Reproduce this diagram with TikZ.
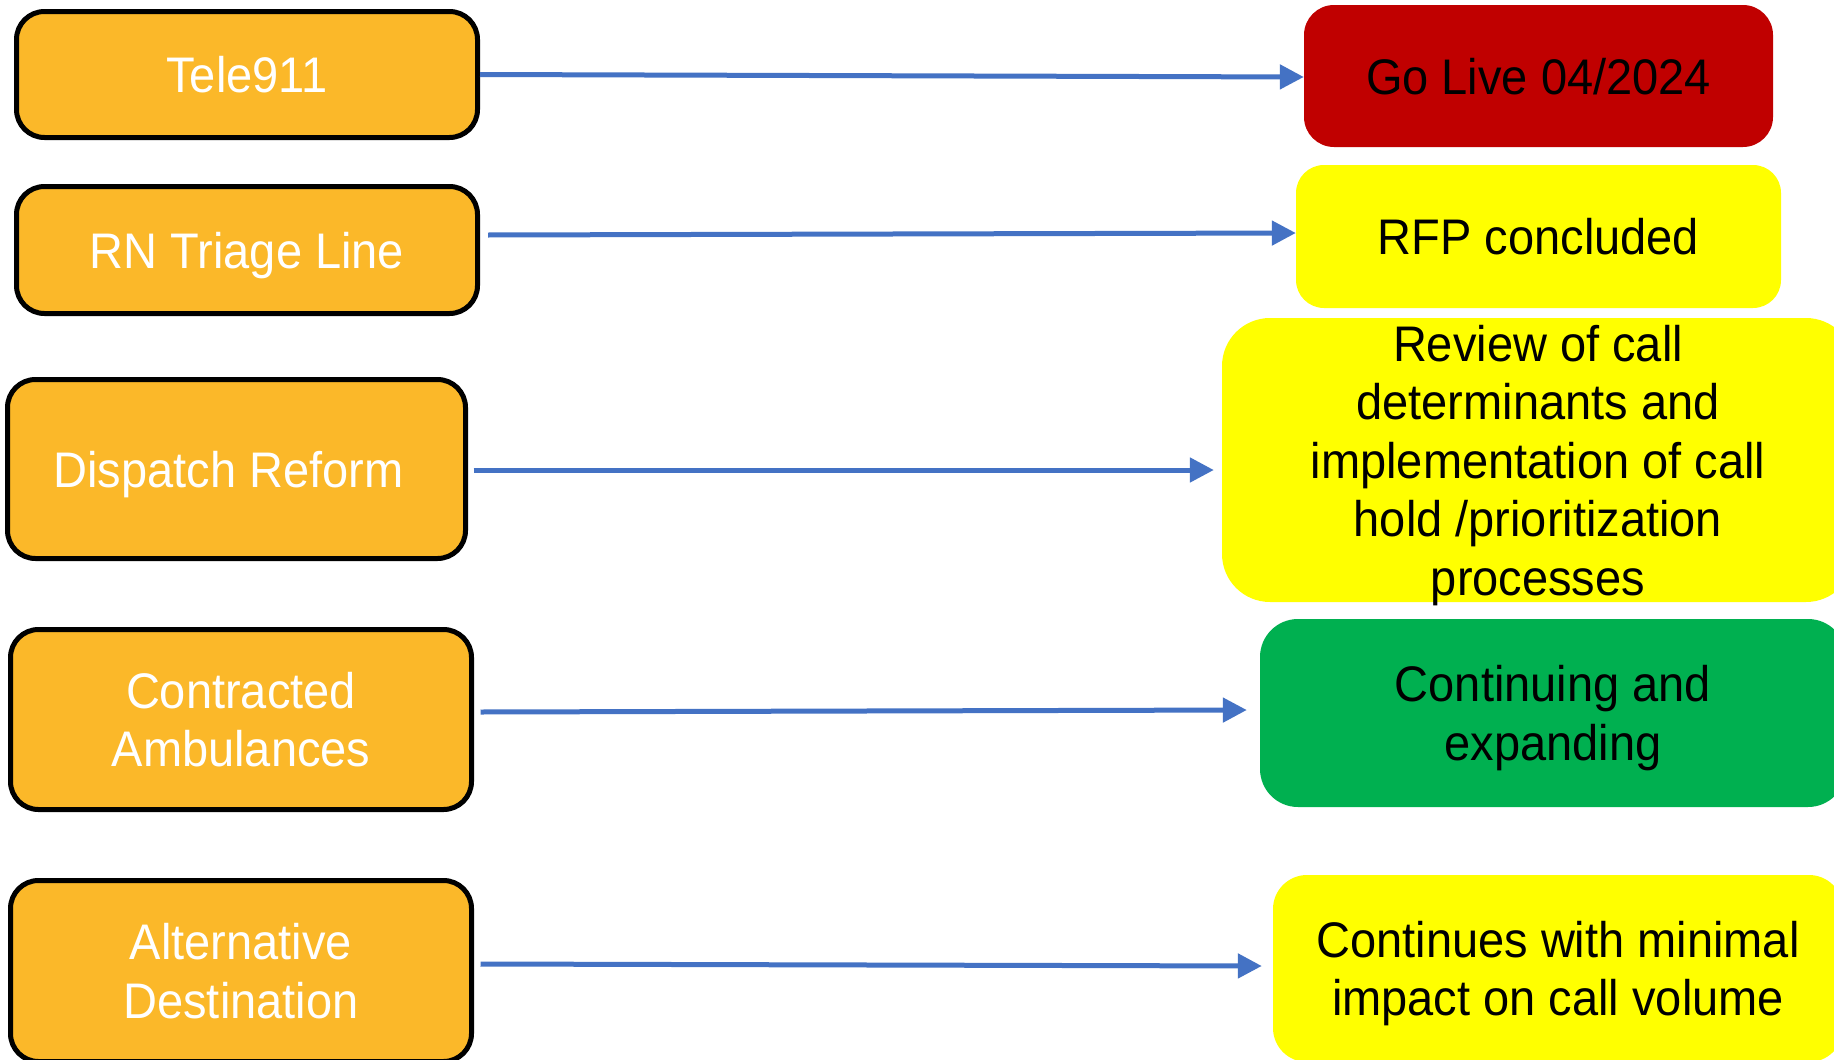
\documentclass[tikz,border=0pt]{standalone}
\usepackage{fontspec}
\setmainfont{Liberation Sans}[FakeStretch=0.94]
\usetikzlibrary{arrows.meta}
\definecolor{boxorange}{HTML}{FBB829}
\definecolor{goRed}{HTML}{C00000}
\definecolor{hiYellow}{HTML}{FFFF00}
\definecolor{okGreen}{HTML}{00B050}
\definecolor{arrowBlue}{HTML}{4472C4}
\begin{document}
\begin{tikzpicture}[x=1pt,y=-1pt,
  srcbox/.style={draw=black, line width=5pt, fill=boxorange, rounded corners=28pt,
    text=white, align=center, font=\fontsize{50}{58.5}\selectfont, inner sep=0pt, text depth=0pt},
  resbox/.style={draw=none, rounded corners=30pt, text=black, align=center,
    font=\fontsize{50}{58.5}\selectfont, inner sep=0pt, text depth=0pt},
  arr/.style={draw=arrowBlue, line width=5pt, -{Triangle[length=24pt,width=24pt]}}]
\useasboundingbox (0,0) rectangle (1834,1060);
\clip (0,0) rectangle (1834,1060);
\fill[white] (0,0) rectangle (1834,1060);

% left boxes
\node[srcbox, minimum width=461pt, minimum height=126pt] (tele) at (247,74.5) {Tele911};
\node[srcbox, minimum width=461pt, minimum height=127pt] (rn) at (247,250) {RN Triage Line};
\node[srcbox, minimum width=458pt, minimum height=179pt] (disp) at (236.5,469) {Dispatch Reform\hspace*{16pt}};
\node[srcbox, minimum width=461pt, minimum height=180pt] (amb) at (241,719.5) {Contracted\\Ambulances};
\node[srcbox, minimum width=461pt, minimum height=181pt] (alt) at (241,971) {Alternative\\Destination};

% right boxes
\node[resbox, fill=goRed, minimum width=469pt, minimum height=142pt] (golive) at (1538.5,76) {Go Live 04/2024};
\node[resbox, fill=hiYellow, rounded corners=28pt, minimum width=485pt, minimum height=143pt] (rfp) at (1538.5,236.5) {RFP concluded};
\node[resbox, fill=hiYellow, rounded corners=48pt, minimum width=632pt, minimum height=284pt] (review) at (1538,460) {Review of call\\determinants and\\implementation of call\\hold /prioritization\\processes};
\node[resbox, fill=okGreen, rounded corners=38pt, minimum width=586pt, minimum height=188pt] (contin) at (1553,713) {Continuing and\\expanding};
\node[resbox, fill=hiYellow, rounded corners=34pt, minimum width=570pt, minimum height=187pt] (minimal) at (1558,968.5) {Continues with minimal\\impact on call volume};

% arrows
\draw[arr] (tele.east) -- ([yshift=-1pt]golive.west);
\draw[arr] ([xshift=8pt,yshift=15pt]rn.east) -- ([yshift=3.5pt]rfp.west);
\draw[arr] ([xshift=5.5pt,yshift=-1pt]disp.east) -- ([xshift=-8pt,yshift=-10pt]review.west);
\draw[arr] ([xshift=6.5pt,yshift=7.5pt]amb.east) -- ([xshift=-13pt,yshift=3pt]contin.west);
\draw[arr] ([xshift=6.5pt,yshift=7pt]alt.east) -- ([xshift=-11pt,yshift=2.5pt]minimal.west);
\end{tikzpicture}
\end{document}
